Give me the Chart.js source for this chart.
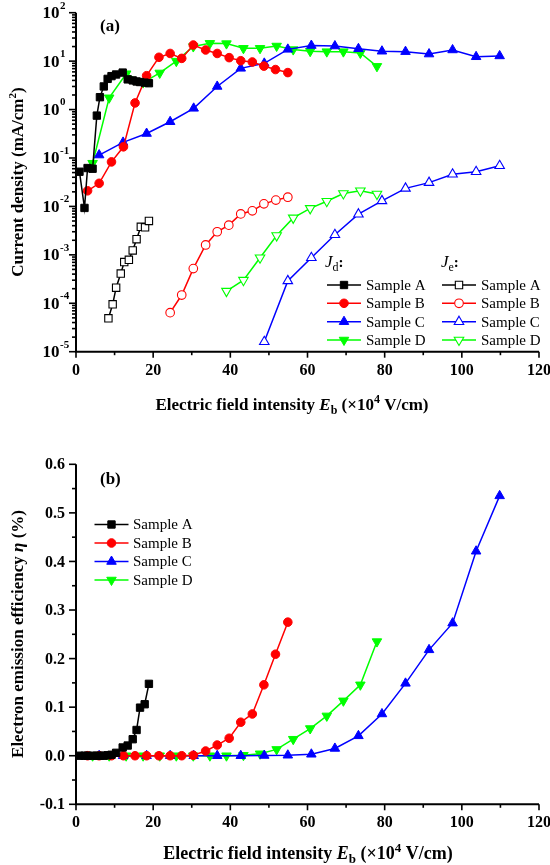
<!DOCTYPE html>
<html><head><meta charset="utf-8">
<script src="https://cdn.jsdelivr.net/npm/chart.js@4.4.1/dist/chart.umd.min.js"></script>
<style>
html,body{margin:0;padding:0;background:#fff;overflow:hidden;}
#wrapA{position:absolute;left:0;top:0;width:550px;height:432px;}
#wrapB{position:absolute;left:0;top:432px;width:550px;height:433px;}
canvas{display:block;}
</style></head><body>
<div id="wrapA"><canvas id="cA" width="550" height="432"></canvas></div>
<div id="wrapB"><canvas id="cB" width="550" height="433"></canvas></div>
<script>
// ---- data (field in 10^4 V/cm) ----
const fieldA=[0.9,2.2,3.0,4.3,5.4,6.2,7.2,8.2,9.2,10.4,12.1,13.4,14.7,15.7,16.6,17.8,18.9];
const jdA=[0.052,0.0093,0.062,0.06,0.75,1.8,3.0,4.3,4.9,5.3,5.8,4.2,4.0,3.8,3.7,3.6,3.5];
const etaA=[0,0,0,0,0,0,0,0.001,0.002,0.006,0.017,0.021,0.034,0.053,0.099,0.106,0.148];
const fieldB=[3.0,6.0,9.2,12.3,15.3,18.3,21.5,24.4,27.4,30.4,33.6,36.6,39.7,42.7,45.7,48.7,51.7,54.9];
const jdB=[0.021,0.030,0.083,0.17,1.37,5.0,12.0,14.4,11.4,21.5,17.0,14.4,11.8,10.2,9.6,7.9,6.7,5.8];
const etaB=[0,0,0,0,0,0,0,0,0,0.001,0.0097,0.022,0.036,0.069,0.086,0.146,0.209,0.275];
const fieldC=[6.0,12.2,18.3,24.4,30.5,36.6,42.7,48.8,54.9,61.0,67.1,73.2,79.3,85.4,91.5,97.6,103.7,109.8];
const jdC=[0.115,0.21,0.32,0.56,1.06,3.0,7.1,9.0,17.5,21,20.5,18,16,15.7,14,17,12.3,12.8];
const etaC=[0,0,0,0,0,0,0,0.0005,0.001,0.003,0.015,0.041,0.086,0.149,0.218,0.273,0.421,0.535];
const fieldD=[4.3,8.6,13.0,17.4,21.7,26.0,30.4,34.7,39.0,43.4,47.7,52.0,56.3,60.7,65.0,69.3,73.7,78.0];
const jdD=[0.078,1.75,5.5,3.6,5.7,10,20,23.3,23,18.4,18.4,20.5,17.3,16,15.7,15.7,14.7,7.8];
const etaD=[0,0,0,0,0,0,0,0,0,0.001,0.004,0.013,0.034,0.056,0.082,0.113,0.146,0.235];
const fieldJeA=[8.4,9.5,10.4,11.6,12.5,13.7,14.7,15.7,16.8,17.9,18.9];
const jeA=[4.9e-5,9.5e-5,2.1e-4,4.1e-4,7.1e-4,7.9e-4,1.23e-3,2.1e-3,3.8e-3,3.7e-3,5.0e-3];
const fieldJeB=[24.4,27.4,30.4,33.6,36.6,39.6,42.7,45.7,48.7,51.8,54.9];
const jeB=[6.4e-5,1.48e-4,5.2e-4,1.6e-3,3.0e-3,4.1e-3,7.0e-3,8.1e-3,0.0113,0.0135,0.0155];
const fieldJeC=[48.8,54.9,61.0,67.1,73.2,79.3,85.4,91.5,97.6,103.7,109.8];
const jeC=[1.6e-5,2.9e-4,8.7e-4,2.6e-3,6.9e-3,0.013,0.0236,0.031,0.046,0.052,0.069];
const fieldJeD=[39.0,43.4,47.7,52.0,56.3,60.7,65.0,69.3,73.7,78.0];
const jeD=[1.78e-4,3.0e-4,8.7e-4,2.5e-3,5.8e-3,9.1e-3,0.0128,0.0185,0.021,0.018];

const sampleNames=['Sample A','Sample B','Sample C','Sample D'];
const xTicks=[0,20,40,60,80,100,120];
const logExps=[-5,-4,-3,-2,-1,0,1,2];
const etaTicks=[-0.1,0,0.1,0.2,0.3,0.4,0.5,0.6];

const COLORS=['#000000','#ff0000','#0000ff','#00ff00'];
const STYLES=[['rect',0,5.2],['circle',0,4.3],['triangle',0,5.5],['triangle',180,5.5]];
const SERIF='"Liberation Serif","Times New Roman",serif';

function ds(label,xs,ys,i,filled){
  const [st,rot,r]=STYLES[i];
  return {label,data:xs.map((x,k)=>({x,y:ys[k]})),borderColor:COLORS[i],backgroundColor:COLORS[i],
    pointBackgroundColor:filled?COLORS[i]:'#ffffff',pointBorderColor:COLORS[i],pointStyle:st,pointRotation:rot,
    pointRadius:r,pointBorderWidth:filled?1:1.1,borderWidth:1.5,showLine:true,clip:false,tension:0,fill:false};
}

function rich(ctx,segs,x,y,align){
  let w=0;
  segs.forEach(s=>{ctx.font=s.f;s.w=ctx.measureText(s.t).width;w+=s.w;});
  let cx=align==='center'?x-w/2:align==='right'?x-w:x;
  ctx.textAlign='left';ctx.textBaseline='alphabetic';
  segs.forEach(s=>{ctx.font=s.f;ctx.fillText(s.t,cx,y+(s.dy||0));cx+=s.w;});
}
function xTitleSegs(sz){
  const b='bold '+sz+'px '+SERIF, sb='bold '+Math.round(sz*0.7)+'px '+SERIF;
  return [{t:'Electric field intensity ',f:b},{t:'E',f:'italic bold '+sz+'px '+SERIF},{t:'b',f:sb,dy:4},
    {t:' (\u00d710',f:b},{t:'4',f:sb,dy:-7},{t:' V/cm)',f:b}];
}
function drawLegendMarker(ctx,x,y,d){
  ctx.save();
  ctx.strokeStyle=d.borderColor;ctx.lineWidth=1.5;
  ctx.beginPath();ctx.moveTo(x-17,y);ctx.lineTo(x+17,y);ctx.stroke();
  ctx.fillStyle=d.pointBackgroundColor;ctx.strokeStyle=d.pointBorderColor;ctx.lineWidth=d.pointBorderWidth;
  Chart.helpers.drawPoint(ctx,{pointStyle:d.pointStyle,rotation:d.pointRotation,radius:d.pointRadius,borderWidth:d.pointBorderWidth},x,y);
  ctx.restore();
}
function drawAxes(ctx,ca,xs){
  ctx.strokeStyle='#000';ctx.fillStyle='#000';ctx.lineWidth=2;
  ctx.beginPath();ctx.moveTo(ca.left,ca.top);ctx.lineTo(ca.left,ca.bottom);ctx.lineTo(ca.right,ca.bottom);ctx.stroke();
  ctx.lineWidth=1.6;
  for(let v=0;v<=120;v+=10){const px=xs.getPixelForValue(v);const L=v%20===0?6:3.5;
    ctx.beginPath();ctx.moveTo(px,ca.bottom);ctx.lineTo(px,ca.bottom+L);ctx.stroke();}
  ctx.textAlign='center';ctx.textBaseline='middle';ctx.font='bold 16px '+SERIF;
  xTicks.forEach(v=>ctx.fillText(String(v),xs.getPixelForValue(v),ca.bottom+19));
}

const decorA={id:'decorA',afterDraw(chart){
  const ctx=chart.ctx,xs=chart.scales.x,ys=chart.scales.y,ca=chart.chartArea;
  ctx.save();
  drawAxes(ctx,ca,xs);
  ctx.lineWidth=1.6;
  logExps.forEach(e=>{const py=ys.getPixelForValue(Math.pow(10,e));
    ctx.beginPath();ctx.moveTo(ca.left,py);ctx.lineTo(ca.left-7,py);ctx.stroke();
    if(e<2){for(let m=2;m<=9;m++){const q=ys.getPixelForValue(m*Math.pow(10,e));
      ctx.beginPath();ctx.moveTo(ca.left,q);ctx.lineTo(ca.left-4,q);ctx.stroke();}}});
  logExps.forEach(e=>{const py=ys.getPixelForValue(Math.pow(10,e));
    ctx.font='bold 17px '+SERIF;ctx.textAlign='right';ctx.textBaseline='middle';ctx.fillText('10',59.5,py+1);
    ctx.font='bold 11px '+SERIF;ctx.textAlign='left';ctx.fillText(e<0?'-'+(-e):String(e),60,py-7);});
  rich(ctx,xTitleSegs(17),292,410,'center');
  ctx.save();ctx.translate(23,182);ctx.rotate(-Math.PI/2);
  rich(ctx,[{t:'Current density (mA/cm',f:'bold 17px '+SERIF},{t:'2',f:'bold 11px '+SERIF,dy:-7},{t:')',f:'bold 17px '+SERIF}],0,0,'center');
  ctx.restore();
  ctx.font='bold 17px '+SERIF;ctx.textAlign='left';ctx.textBaseline='alphabetic';ctx.fillText('(a)',100,31);
  rich(ctx,[{t:'J',f:'italic 17px '+SERIF},{t:'d',f:'12px '+SERIF,dy:4},{t:':',f:'bold 15px '+SERIF}],325,267,'left');
  rich(ctx,[{t:'J',f:'italic 17px '+SERIF},{t:'e',f:'12px '+SERIF,dy:4},{t:':',f:'bold 15px '+SERIF}],441,267,'left');
  const rows=[285,303.3,321.7,340];
  const dsets=chart.data.datasets;
  for(let i=0;i<4;i++){
    drawLegendMarker(ctx,344,rows[i],dsets[i]);
    drawLegendMarker(ctx,459,rows[i],dsets[4+i]);
    ctx.fillStyle='#000';ctx.font='15px '+SERIF;ctx.textAlign='left';ctx.textBaseline='middle';
    ctx.fillText(sampleNames[i],366,rows[i]+1);ctx.fillText(sampleNames[i],481,rows[i]+1);
  }
  ctx.restore();
}};

const OFF=432; // page y offset of chart (b) canvas
const decorB={id:'decorB',afterDraw(chart){
  const ctx=chart.ctx,xs=chart.scales.x,ys=chart.scales.y,ca=chart.chartArea;
  ctx.save();
  drawAxes(ctx,ca,xs);
  ctx.lineWidth=1.6;
  for(let k=-2;k<=12;k++){const v=k*0.05;const py=ys.getPixelForValue(v);const L=k%2===0?7:4;
    ctx.beginPath();ctx.moveTo(ca.left,py);ctx.lineTo(ca.left-L,py);ctx.stroke();}
  ctx.textAlign='right';ctx.textBaseline='middle';ctx.font='bold 16px '+SERIF;
  etaTicks.forEach(v=>ctx.fillText(v.toFixed(1),65,ys.getPixelForValue(v)+1));
  rich(ctx,xTitleSegs(18),308,859-OFF,'center');
  ctx.save();ctx.translate(23,634-OFF);ctx.rotate(-Math.PI/2);
  rich(ctx,[{t:'Electron emission efficiency ',f:'bold 17px '+SERIF},{t:'\u03b7',f:'italic bold 17px '+SERIF},{t:' (%)',f:'bold 17px '+SERIF}],0,0,'center');
  ctx.restore();
  ctx.font='bold 17px '+SERIF;ctx.textAlign='left';ctx.textBaseline='alphabetic';ctx.fillText('(b)',100,484-OFF);
  const rows=[524.5,543,561.5,580];
  const dsets=chart.data.datasets;
  for(let i=0;i<4;i++){
    drawLegendMarker(ctx,111.5,rows[i]-OFF,dsets[i]);
    ctx.fillStyle='#000';ctx.font='15px '+SERIF;ctx.textAlign='left';ctx.textBaseline='middle';
    ctx.fillText(sampleNames[i],133,rows[i]-OFF+1);
  }
  ctx.restore();
}};

const baseOpts=(yScale,padTop,xH)=>({responsive:false,animation:false,events:[],
  plugins:{legend:{display:false},tooltip:{enabled:false}},
  layout:{padding:{left:0,right:11,top:padTop,bottom:0}},
  scales:{x:{type:'linear',min:0,max:120,grid:{display:false},border:{display:false},ticks:{display:false},afterFit(s){s.height=xH;}},
    y:Object.assign({grid:{display:false},border:{display:false},ticks:{display:false},afterFit(s){s.width=76;}},yScale)}});

new Chart(document.getElementById('cA'),{type:'scatter',
  data:{datasets:[ds('Jd Sample A',fieldA,jdA,0,true),ds('Jd Sample B',fieldB,jdB,1,true),ds('Jd Sample C',fieldC,jdC,2,true),ds('Jd Sample D',fieldD,jdD,3,true),
    ds('Je Sample A',fieldJeA,jeA,0,false),ds('Je Sample B',fieldJeB,jeB,1,false),ds('Je Sample C',fieldJeC,jeC,2,false),ds('Je Sample D',fieldJeD,jeD,3,false)]},
  options:baseOpts({type:'logarithmic',min:1e-5,max:100},12.7,80.3),plugins:[decorA]});

new Chart(document.getElementById('cB'),{type:'scatter',
  data:{datasets:[ds('Sample A',fieldA,etaA,0,true),ds('Sample B',fieldB,etaB,1,true),ds('Sample C',fieldC,etaC,2,true),ds('Sample D',fieldD,etaD,3,true)]},
  options:baseOpts({type:'linear',min:-0.1,max:0.6},32.3,60.7),plugins:[decorB]});
</script>
</body></html>
